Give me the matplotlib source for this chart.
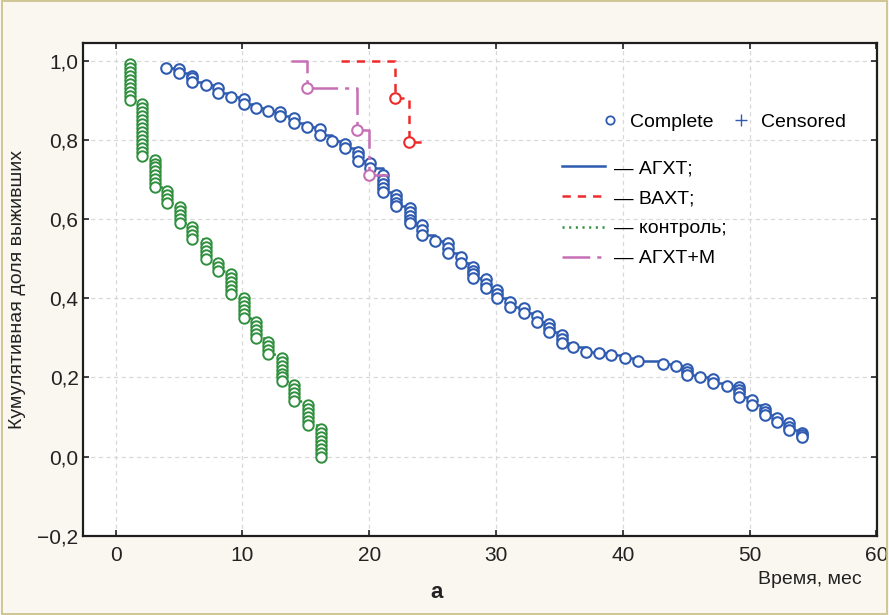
import matplotlib
matplotlib.use("Agg")
import matplotlib.pyplot as plt
from matplotlib.lines import Line2D
from matplotlib.patches import Rectangle
import numpy as np

plt.rcParams['font.family'] = ['Liberation Sans', 'DejaVu Sans']
plt.rcParams['lines.scale_dashes'] = False

# ---- data ----
# АГХТ: time of each complete observation and survival after it
agxt_t = [4.0, 5.0, 5.0, 6.0, 6.0, 6.0, 7.1, 8.1, 8.1, 9.1, 10.1, 10.1, 11.1, 12.0,
          13.0, 13.0, 14.1, 14.1, 15.1, 16.1, 16.1, 17.1, 18.1, 18.1, 19.1, 19.1, 19.1,
          20.1, 20.1, 21.1, 21.1, 21.1, 21.1, 21.1, 22.1, 22.1, 22.1, 22.1,
          23.2, 23.2, 23.2, 23.2, 23.2, 24.2, 24.2, 24.2, 25.2, 26.2, 26.2, 26.2,
          27.2, 27.2, 28.2, 28.2, 28.2, 28.2, 29.2, 29.2, 29.2, 30.1, 30.1, 30.1,
          31.1, 31.1, 32.2, 32.2, 33.2, 33.2, 34.2, 34.2, 34.2, 35.2, 35.2, 35.2,
          36.1, 37.1, 38.1, 39.1, 40.2, 41.2, 43.2, 44.2, 45.1, 45.1, 45.1, 46.1,
          47.1, 47.1, 48.2, 49.2, 49.2, 49.2, 49.2, 50.2, 50.2, 51.2, 51.2, 51.2,
          52.2, 52.2, 53.1, 53.1, 53.1, 54.1, 54.1, 54.1]
agxt_s = [0.982, 0.979, 0.968, 0.962, 0.955, 0.947, 0.937, 0.930, 0.918, 0.907, 0.903, 0.890,
          0.880, 0.873, 0.870, 0.860, 0.855, 0.842, 0.831, 0.828, 0.812, 0.797, 0.789, 0.779,
          0.770, 0.760, 0.747, 0.741, 0.728, 0.711, 0.699, 0.688, 0.678, 0.669,
          0.661, 0.650, 0.641, 0.633, 0.627, 0.617, 0.608, 0.598, 0.589, 0.585, 0.572, 0.560,
          0.545, 0.539, 0.527, 0.514, 0.505, 0.490, 0.480, 0.470, 0.461, 0.451,
          0.448, 0.437, 0.425, 0.421, 0.410, 0.400, 0.391, 0.379, 0.375, 0.362,
          0.354, 0.341, 0.335, 0.325, 0.316, 0.306, 0.296, 0.286, 0.278, 0.265,
          0.261, 0.257, 0.248, 0.242, 0.234, 0.229, 0.221, 0.213, 0.206, 0.202,
          0.195, 0.185, 0.179, 0.177, 0.168, 0.160, 0.152, 0.143, 0.131, 0.120, 0.112, 0.105,
          0.099, 0.088, 0.084, 0.075, 0.067, 0.061, 0.055, 0.049]

# контроль: months with deaths and number of deaths (100 patients)
control_t = [1.1, 2.1, 3.1, 4.05, 5.05, 6.05, 7.15, 8.05, 9.1, 10.1, 11.1, 12.0, 13.1, 14.05, 15.15, 16.2]
control_d = [10, 14, 8, 4, 5, 4, 5, 3, 6, 6, 5, 4, 7, 5, 6, 8]

# ВАХТ
vaxt_start, vaxt_end = 17.8, 24.5
vaxt_t = [22.0, 23.15]
vaxt_s = [0.905, 0.795]

# АГХТ+М
agxtm_start, agxtm_end = 13.8, 21.6
agxtm_t = [15.1, 19.05, 20.0]
agxtm_s = [0.93, 0.825, 0.71]

labels = ['— АГХТ;', '— ВАХТ;', '— контроль;', '— АГХТ+М']

c_blue = '#2f5bb0'
c_red = '#ee2b2b'
c_green = '#2f8f3d'
c_pink = '#c66fb5'

fig = plt.figure(figsize=(8.89, 6.15), dpi=100, facecolor='#faf7f0')
fig.patches.append(Rectangle((0.002, 0.002), 0.996, 0.996, transform=fig.transFigure,
                             fill=False, edgecolor='#cdc18c', lw=1.3))
ax = fig.add_axes([0.093, 0.1285, 0.8935, 0.8021])
ax.set_facecolor('white')

# control
n_ctrl = sum(control_d)
ct, cs = [], []
dead = 0
for t, d in zip(control_t, control_d):
    for k in range(d):
        dead += 1
        ct.append(t)
        cs.append(1 - dead / n_ctrl)
ln_g, = ax.step(ct, cs, where='post', color=c_green, lw=1.8, dashes=(1.5, 3.3))
ax.plot(ct, cs, 'o', ms=7.5, mfc='white', mec=c_green, mew=1.4, ls='none')

# АГХТ
ln_b, = ax.step(agxt_t, agxt_s, where='post', color=c_blue, lw=1.8)
ax.plot(agxt_t, agxt_s, 'o', ms=7.6, mfc='white', mec=c_blue, mew=1.5, ls='none')

# ВАХТ
rx = [vaxt_start] + vaxt_t + [vaxt_end]
ry = [1.0] + vaxt_s + [vaxt_s[-1]]
ln_r, = ax.step(rx, ry, where='post', color=c_red, lw=1.8, dashes=(6, 5))
ax.plot(vaxt_t, vaxt_s, 'o', ms=7.6, mfc='white', mec=c_red, mew=1.5, ls='none')

# АГХТ+М
px = [agxtm_start] + agxtm_t + [agxtm_end]
py = [1.0] + agxtm_s + [agxtm_s[-1]]
ln_p, = ax.step(px, py, where='post', color=c_pink, lw=1.8, dashes=(20, 5, 3, 5))
ax.plot(agxtm_t, agxtm_s, 'o', ms=7.6, mfc='white', mec=c_pink, mew=1.5, ls='none')

ax.set_xlim(-2.6, 60.05)
ax.set_ylim(-0.2, 1.045)
ax.set_xticks([0, 10, 20, 30, 40, 50, 60])
ax.set_yticks([-0.2, 0, 0.2, 0.4, 0.6, 0.8, 1.0])
ax.set_yticklabels(['\u22120,2', '0,0', '0,2', '0,4', '0,6', '0,8', '1,0'], fontsize=15)
ax.set_xticklabels(['0', '10', '20', '30', '40', '50', '60'], fontsize=15)
ax.grid(True, color='#d8d8d8', lw=0.9, dashes=(3, 2.5))
ax.set_axisbelow(True)
for s in ax.spines.values():
    s.set_linewidth(1.6)
    s.set_color('#1e1e1e')
ax.tick_params(direction='in', top=True, right=True, length=4, width=1.2, colors='#222222')
ax.tick_params(axis='x', pad=7)
ax.tick_params(axis='y', pad=3)

ax.set_ylabel('Кумулятивная доля выживших', fontsize=14, color='#222222', labelpad=8)
fig.text(862 / 889, 1 - 580 / 615, 'Время, мес', ha='right', va='center', fontsize=14,
         color='#222222')
fig.text(437 / 889, 1 - 592 / 615, 'а', ha='center', va='center', fontsize=16,
         fontweight='bold', color='#222222')

# legends
h1 = [Line2D([], [], marker='o', ls='none', ms=6, mfc='white', mec=c_blue, mew=1.3),
      Line2D([], [], marker='+', ls='none', ms=9, mec=c_blue, mew=1.0)]
leg1 = fig.legend(h1, ['Complete', 'Censored'], loc='center left', ncol=2,
                  bbox_to_anchor=(600 / 889, 1 - 122 / 615), frameon=False, fontsize=14,
                  handlelength=1.0, handletextpad=0.55, columnspacing=0.9,
                  borderpad=0, borderaxespad=0)
h2 = [Line2D([], [], color=c_blue, lw=1.8),
      Line2D([], [], color=c_red, lw=1.8, dashes=(6, 5)),
      Line2D([], [], color=c_green, lw=1.8, dashes=(1.5, 3.3)),
      Line2D([], [], color=c_pink, lw=1.8, dashes=(20, 5, 3, 5))]
leg2 = fig.legend(h2, labels, loc='center left', bbox_to_anchor=(562 / 889, 1 - 213.5 / 615),
                  frameon=False, fontsize=14, handlelength=2.2, handletextpad=0.45,
                  labelspacing=0.64, borderpad=0, borderaxespad=0)

fig.savefig('out.png', dpi=100, facecolor=fig.get_facecolor())
